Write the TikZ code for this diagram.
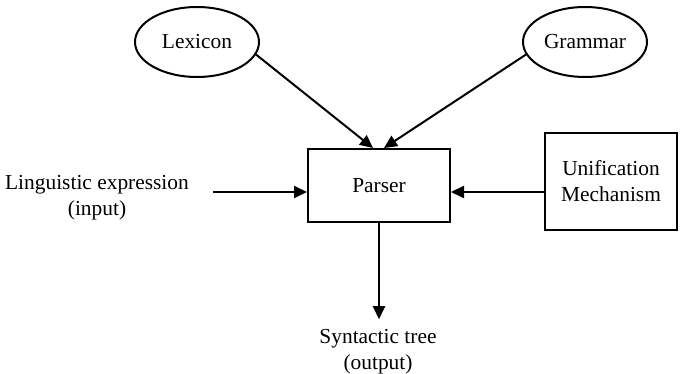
\documentclass[tikz,border=0pt]{standalone}
\usepackage{fontspec}
\setmainfont{Liberation Serif}
\usetikzlibrary{positioning, arrows.meta, shapes.geometric}

\begin{document}
\begin{tikzpicture}[
  x=0.5pt, y=-0.5pt,
  font=\fontsize{10.7}{13}\selectfont,
  source/.style={draw, ellipse, line width=1pt, minimum width=62pt, minimum height=35pt, inner sep=0pt},
  box/.style={draw, rectangle, line width=1pt, align=center, inner sep=0pt},
  lbl/.style={align=center, inner sep=0pt},
  arr/.style={-{Triangle[length=6.5pt, width=6pt]}, line width=1pt}
]
\useasboundingbox (0,0) rectangle (682,374);

% ---------- knowledge sources ----------
\node[source] (lex) at (197,42) {Lexicon};
\node[source] (gram) at (585,42) {Grammar};

% ---------- parser and unifier ----------
\node[box, minimum width=71pt, minimum height=36.5pt] (parser) at (379,185.5) {Parser};
\node[box, minimum width=66pt, minimum height=48.5pt] (unif) at (611,181.5) {Unification\\Mechanism};

% ---------- input / output ----------
\node[lbl] (input) at (97,198) {Linguistic expression\\(input)};
\node[lbl] (output) at (378,352) {Syntactic tree\\(output)};
\coordinate (inrow) at (213,192);

\draw[arr] (lex.-12) -- ([xshift=-3pt]parser.north);
\draw[arr] (gram.192) -- ([xshift=2.5pt]parser.north);
\draw[arr] (inrow) -- (inrow -| parser.west);
\draw[arr] (inrow -| unif.west) -- (inrow -| parser.east);
\draw[arr] (parser.south) -- ([yshift=5pt]output.north -| parser.south);

\end{tikzpicture}
\end{document}
